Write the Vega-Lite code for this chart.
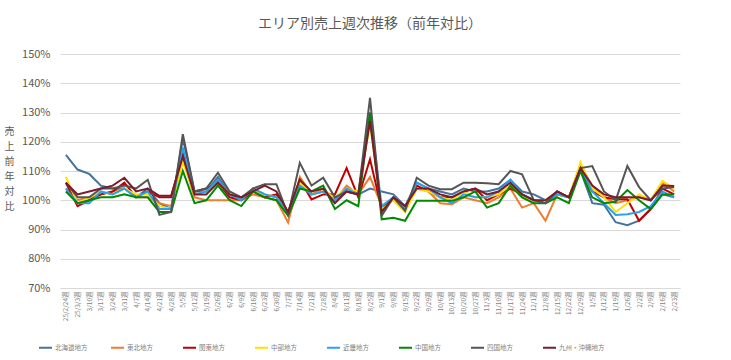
{
  "$schema": "https://vega.github.io/schema/vega-lite/v6.json",
  "width": 620,
  "height": 234,
  "autosize": {"type": "none"},
  "padding": {"left": 60, "top": 54, "right": 51, "bottom": 72},
  "background": "white",
  "config": {"font": "Noto Sans CJK JP", "view": {"stroke": null}},
  "title": {"text": "エリア別売上週次推移（前年対比）", "fontSize": 14, "fontWeight": "normal", "color": "#595959", "anchor": "middle", "offset": 17},
  "data": {"values": [
    {"w": "25/2/24週", "北海道地方": 115.5, "東北地方": 104, "関東地方": 106, "中部地方": 108, "近畿地方": 104, "中国地方": 103, "四国地方": 106, "九州・沖縄地方": 106},
    {"w": "25/3/3週", "北海道地方": 110.5, "東北地方": 100, "関東地方": 98, "中部地方": 99, "近畿地方": 99, "中国地方": 99, "四国地方": 101, "九州・沖縄地方": 102},
    {"w": "3/10週", "北海道地方": 109, "東北地方": 101, "関東地方": 100, "中部地方": 101, "近畿地方": 99, "中国地方": 100, "四国地方": 101, "九州・沖縄地方": 103},
    {"w": "3/17週", "北海道地方": 105, "東北地方": 102, "関東地方": 102, "中部地方": 103, "近畿地方": 103, "中国地方": 101, "四国地方": 104, "九州・沖縄地方": 104},
    {"w": "3/24週", "北海道地方": 104, "東北地方": 103, "関東地方": 103, "中部地方": 102, "近畿地方": 102, "中国地方": 101, "四国地方": 104, "九州・沖縄地方": 105},
    {"w": "3/31週", "北海道地方": 104, "東北地方": 104, "関東地方": 106, "中部地方": 104, "近畿地方": 104, "中国地方": 102, "四国地方": 105, "九州・沖縄地方": 107.7},
    {"w": "4/7週", "北海道地方": 101, "東北地方": 101, "関東地方": 101, "中部地方": 102, "近畿地方": 101, "中国地方": 101, "四国地方": 104, "九州・沖縄地方": 103},
    {"w": "4/14週", "北海道地方": 104, "東北地方": 101, "関東地方": 103, "中部地方": 102, "近畿地方": 103, "中国地方": 101, "四国地方": 107, "九州・沖縄地方": 104},
    {"w": "4/21週", "北海道地方": 99, "東北地方": 99, "関東地方": 101, "中部地方": 98, "近畿地方": 97, "中国地方": 96, "四国地方": 95, "九州・沖縄地方": 101.5},
    {"w": "4/28週", "北海道地方": 97, "東北地方": 98, "関東地方": 101, "中部地方": 97, "近畿地方": 97, "中国地方": 96, "四国地方": 96, "九州・沖縄地方": 101.5},
    {"w": "5/5週", "北海道地方": 121, "東北地方": 114, "関東地方": 116, "中部地方": 113, "近畿地方": 118, "中国地方": 110, "四国地方": 122.6, "九州・沖縄地方": 115},
    {"w": "5/12週", "北海道地方": 103, "東北地方": 101, "関東地方": 103, "中部地方": 102, "近畿地方": 102, "中国地方": 99, "四国地方": 103, "九州・沖縄地方": 102},
    {"w": "5/19週", "北海道地方": 103, "東北地方": 100, "関東地方": 104, "中部地方": 103, "近畿地方": 103, "中国地方": 100, "四国地方": 104, "九州・沖縄地方": 102},
    {"w": "5/26週", "北海道地方": 108, "東北地方": 100, "関東地方": 106, "中部地方": 106, "近畿地方": 107, "中国地方": 105, "四国地方": 109.4, "九州・沖縄地方": 106},
    {"w": "6/2週", "北海道地方": 102, "東北地方": 100, "関東地方": 101, "中部地方": 102, "近畿地方": 102, "中国地方": 100, "四国地方": 103, "九州・沖縄地方": 102},
    {"w": "6/9週", "北海道地方": 100, "東北地方": 100, "関東地方": 100, "中部地方": 101, "近畿地方": 100, "中国地方": 98, "四国地方": 101, "九州・沖縄地方": 101},
    {"w": "6/16週", "北海道地方": 104, "東北地方": 102, "関東地方": 103, "中部地方": 103, "近畿地方": 104, "中国地方": 103, "四国地方": 104, "九州・沖縄地方": 103},
    {"w": "6/23週", "北海道地方": 102, "東北地方": 101, "関東地方": 101, "中部地方": 102, "近畿地方": 102, "中国地方": 101, "四国地方": 105.5, "九州・沖縄地方": 105},
    {"w": "6/30週", "北海道地方": 101, "東北地方": 100, "関東地方": 102, "中部地方": 101, "近畿地方": 101, "中国地方": 100, "四国地方": 105.5, "九州・沖縄地方": 103},
    {"w": "7/7週", "北海道地方": 95, "東北地方": 92.4, "関東地方": 96, "中部地方": 96, "近畿地方": 96, "中国地方": 94.7, "四国地方": 95, "九州・沖縄地方": 96},
    {"w": "7/14週", "北海道地方": 105, "東北地方": 108, "関東地方": 107, "中部地方": 106, "近畿地方": 105, "中国地方": 104, "四国地方": 112.8, "九州・沖縄地方": 107},
    {"w": "7/21週", "北海道地方": 102, "東北地方": 102, "関東地方": 100.3, "中部地方": 102, "近畿地方": 102, "中国地方": 103, "四国地方": 105, "九州・沖縄地方": 103},
    {"w": "7/28週", "北海道地方": 103, "東北地方": 104, "関東地方": 102, "中部地方": 103, "近畿地方": 103, "中国地方": 105, "四国地方": 107.7, "九州・沖縄地方": 104},
    {"w": "8/4週", "北海道地方": 100, "東北地方": 100, "関東地方": 102, "中部地方": 101, "近畿地方": 100, "中国地方": 97, "四国地方": 101, "九州・沖縄地方": 99},
    {"w": "8/11週", "北海道地方": 103, "東北地方": 105, "関東地方": 111, "中部地方": 104, "近畿地方": 104, "中国地方": 100, "四国地方": 103, "九州・沖縄地方": 103},
    {"w": "8/18週", "北海道地方": 102, "東北地方": 102, "関東地方": 101, "中部地方": 103, "近畿地方": 102, "中国地方": 98, "四国地方": 102, "九州・沖縄地方": 102},
    {"w": "8/25週", "北海道地方": 104, "東北地方": 108, "関東地方": 114, "中部地方": 126, "近畿地方": 130, "中国地方": 130, "四国地方": 135, "九州・沖縄地方": 127},
    {"w": "9/1週", "北海道地方": 103, "東北地方": 98, "関東地方": 97, "中部地方": 97, "近畿地方": 98, "中国地方": 93.5, "四国地方": 94.7, "九州・沖縄地方": 96},
    {"w": "9/8週", "北海道地方": 102, "東北地方": 100, "関東地方": 101, "中部地方": 100, "近畿地方": 101, "中国地方": 94, "四国地方": 101, "九州・沖縄地方": 101},
    {"w": "9/15週", "北海道地方": 98, "東北地方": 97, "関東地方": 97, "中部地方": 96, "近畿地方": 97, "中国地方": 93, "四国地方": 96.4, "九州・沖縄地方": 98},
    {"w": "9/22週", "北海道地方": 106, "東北地方": 104, "関東地方": 105, "中部地方": 104, "近畿地方": 106, "中国地方": 99.8, "四国地方": 107.7, "九州・沖縄地方": 104},
    {"w": "9/29週", "北海道地方": 104, "東北地方": 103, "関東地方": 103, "中部地方": 103, "近畿地方": 104, "中国地方": 99.8, "四国地方": 105, "九州・沖縄地方": 104},
    {"w": "10/6週", "北海道地方": 103, "東北地方": 99, "関東地方": 101, "中部地方": 101, "近畿地方": 101, "中国地方": 99.8, "四国地方": 103.8, "九州・沖縄地方": 102},
    {"w": "10/13週", "北海道地方": 102, "東北地方": 98.6, "関東地方": 101, "中部地方": 100, "近畿地方": 99, "中国地方": 99.8, "四国地方": 103.8, "九州・沖縄地方": 101},
    {"w": "10/20週", "北海道地方": 104, "東北地方": 101, "関東地方": 103, "中部地方": 103, "近畿地方": 102, "中国地方": 101, "四国地方": 106, "九州・沖縄地方": 103},
    {"w": "10/27週", "北海道地方": 103, "東北地方": 100, "関東地方": 104, "中部地方": 101, "近畿地方": 101, "中国地方": 103, "四国地方": 106, "九州・沖縄地方": 104},
    {"w": "11/3週", "北海道地方": 103, "東北地方": 99, "関東地方": 100, "中部地方": 101, "近畿地方": 101, "中国地方": 97.5, "四国地方": 105.8, "九州・沖縄地方": 102},
    {"w": "11/10週", "北海道地方": 104, "東北地方": 101, "関東地方": 102, "中部地方": 102, "近畿地方": 103, "中国地方": 99, "四国地方": 105.5, "九州・沖縄地方": 103},
    {"w": "11/17週", "北海道地方": 107, "東北地方": 104, "関東地方": 104, "中部地方": 105, "近畿地方": 107, "中国地方": 105, "四国地方": 110, "九州・沖縄地方": 106},
    {"w": "11/24週", "北海道地方": 103, "東北地方": 97.5, "関東地方": 102, "中部地方": 101, "近畿地方": 102, "中国地方": 101, "四国地方": 108.9, "九州・沖縄地方": 102},
    {"w": "12/1週", "北海道地方": 102, "東北地方": 99, "関東地方": 100, "中部地方": 100, "近畿地方": 100, "中国地方": 99, "四国地方": 100, "九州・沖縄地方": 100},
    {"w": "12/8週", "北海道地方": 100, "東北地方": 93, "関東地方": 99, "中部地方": 100, "近畿地方": 99, "中国地方": 99, "四国地方": 99, "九州・沖縄地方": 100},
    {"w": "12/15週", "北海道地方": 102, "東北地方": 102, "関東地方": 103, "中部地方": 102, "近畿地方": 102, "中国地方": 101, "四国地方": 103, "九州・沖縄地方": 103},
    {"w": "12/22週", "北海道地方": 101, "東北地方": 101, "関東地方": 101, "中部地方": 101, "近畿地方": 101, "中国地方": 99, "四国地方": 101, "九州・沖縄地方": 101},
    {"w": "12/29週", "北海道地方": 110, "東北地方": 112, "関東地方": 111, "中部地方": 113, "近畿地方": 111, "中国地方": 110, "四国地方": 111, "九州・沖縄地方": 111},
    {"w": "1/5週", "北海道地方": 99, "東北地方": 105, "関東地方": 103, "中部地方": 104, "近畿地方": 103, "中国地方": 101, "四国地方": 111.7, "九州・沖縄地方": 105},
    {"w": "1/12週", "北海道地方": 98.5, "東北地方": 101, "関東地方": 101, "中部地方": 101, "近畿地方": 99, "中国地方": 99, "四国地方": 103, "九州・沖縄地方": 102},
    {"w": "1/19週", "北海道地方": 92.5, "東北地方": 99, "関東地方": 100.3, "中部地方": 96, "近畿地方": 95, "中国地方": 99.5, "四国地方": 100, "九州・沖縄地方": 101},
    {"w": "1/26週", "北海道地方": 91.5, "東北地方": 100, "関東地方": 100.3, "中部地方": 99, "近畿地方": 95.2, "中国地方": 103.5, "四国地方": 111.7, "九州・沖縄地方": 101},
    {"w": "2/2週", "北海道地方": 93, "東北地方": 101, "関東地方": 93, "中部地方": 102, "近畿地方": 96, "中国地方": 100, "四国地方": 104.5, "九州・沖縄地方": 101},
    {"w": "2/9週", "北海道地方": 97, "東北地方": 100, "関東地方": 97, "中部地方": 100, "近畿地方": 98, "中国地方": 97, "四国地方": 100, "九州・沖縄地方": 100},
    {"w": "2/16週", "北海道地方": 102, "東北地方": 106, "関東地方": 104, "中部地方": 106.6, "近畿地方": 103, "中国地方": 102, "四国地方": 104, "九州・沖縄地方": 105},
    {"w": "2/23週", "北海道地方": 101, "東北地方": 103, "関東地方": 102, "中部地方": 104, "近畿地方": 101, "中国地方": 102, "四国地方": 104.5, "九州・沖縄地方": 104.9}
  ]},
  "transform": [
    {"fold": ["北海道地方", "東北地方", "関東地方", "中部地方", "近畿地方", "中国地方", "四国地方", "九州・沖縄地方"], "as": ["area", "v"]}
  ],
  "mark": {"type": "line", "strokeWidth": 2},
  "encoding": {
    "x": {
      "field": "w", "type": "ordinal", "sort": null,
      "scale": {"type": "point", "padding": 0.5},
      "axis": {"title": null, "labelAngle": -90, "labelFontSize": 6.5, "labelColor": "#7f7f7f", "ticks": false, "domainColor": "#d9d9d9", "labelPadding": 3, "grid": false}
    },
    "y": {
      "field": "v", "type": "quantitative",
      "scale": {"domain": [70, 150], "nice": false, "zero": false},
      "axis": {
        "values": [70, 80, 90, 100, 110, 120, 130, 140, 150],
        "labelExpr": "datum.value + '%'",
        "gridColor": "#d9d9d9", "domain": false, "ticks": false,
        "labelFontSize": 11, "labelColor": "#595959", "labelPadding": 10,
        "title": ["売", "上", "前", "年", "対", "比"],
        "titleAngle": 0, "titleFontSize": 10, "titleFontWeight": "normal", "titleColor": "#595959",
        "titleAlign": "center", "titleBaseline": "middle", "titleX": -51, "titleY": 77, "titleLineHeight": 15
      }
    },
    "color": {
      "field": "area", "type": "nominal",
      "scale": {
        "domain": ["北海道地方", "東北地方", "関東地方", "中部地方", "近畿地方", "中国地方", "四国地方", "九州・沖縄地方"],
        "range": ["#44739E", "#ED7D31", "#C00000", "#FFE000", "#2CA0F0", "#008A00", "#555555", "#7A1C2C"]
      },
      "legend": {
        "title": null, "orient": "none", "legendX": -22, "legendY": 286, "direction": "horizontal",
        "columns": 8, "gridAlign": "all", "symbolType": "stroke", "symbolSize": 169, "symbolStrokeWidth": 2,
        "labelFontSize": 6.5, "labelColor": "#7f7f7f", "columnPadding": 6, "labelOffset": 2
      }
    }
  }
}
